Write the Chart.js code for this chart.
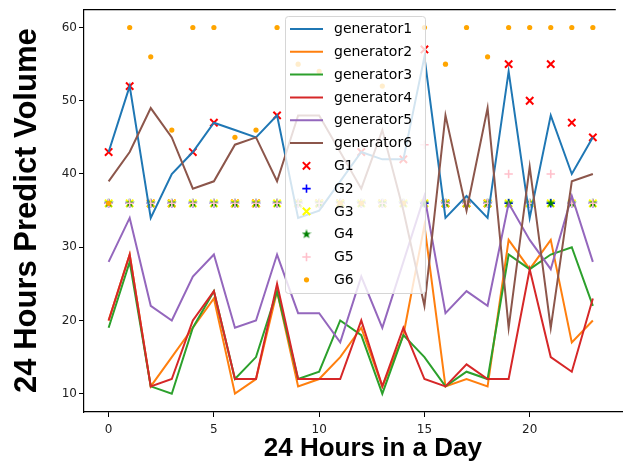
<!DOCTYPE html>
<html><head><meta charset="utf-8">
<script src="https://cdn.jsdelivr.net/npm/chart.js@4/dist/chart.umd.min.js"></script>
<style>html,body{margin:0;padding:0;background:#fff}#wrap{width:623px;height:461px;position:relative;overflow:hidden}</style>
</head><body><div id="wrap"><canvas id="c" width="623" height="461"></canvas></div>
<script>
// ---------- data ----------
const hours = [0,1,2,3,4,5,6,7,8,9,10,11,12,13,14,15,16,17,18,19,20,21,22,23];
const xTickValues = [0,5,10,15,20];
const yTickValues = [10,20,30,40,50,60];
const xTitle = '24 Hours in a Day';
const yTitle = '24 Hours Predict Volume';
const seriesNames = ['generator1','generator2','generator3','generator4','generator5','generator6'];
const generator1 = [43,52,34,40,43,47,46,45,48,34,35,39,43,42,42,56,34,37,34,54,34,48,40,45];
const generator2 = [20,29,11,15,19,23,10,12,24,11,12,15,19,11,18,33,11,12,11,31,27,31,17,20];
const generator3 = [19,28,11,10,19,24,12,15,24,12,13,20,18,10,18,15,11,13,12,29,27,29,30,22];
const generator4 = [20,29,11,12,20,24,12,12,25,12,12,12,20,11,19,12,11,14,12,12,27,15,13,23];
const generator5 = [28,34,22,20,26,29,19,20,29,21,21,17,26,19,28,37,21,24,22,36,31,27,37,28];
const generator6 = [39,43,49,45,38,39,44,45,39,48,48,43,38,46,35,22,48,35,49,19,41,19,39,40];
const markerNames = ['G1','G2','G3','G4','G5','G6'];
const G1 = [43,52,36,36,43,47,36,36,48,36,36,36,43,36,42,57,36,36,36,55,50,55,47,45];
const G2 = [36,36,36,36,36,36,36,36,36,36,36,36,36,36,36,36,36,36,36,36,36,36,36,36];
const G3 = [36,36,36,36,36,36,36,36,36,36,36,36,36,36,36,36,36,36,36,36,36,36,36,36];
const G4 = [36,36,36,36,36,36,36,36,36,36,36,36,36,36,36,36,36,36,36,36,36,36,36,36];
const G5 = [36,36,36,36,36,36,36,36,36,36,36,36,36,36,36,44,36,36,36,40,36,40,36,36];
const G6 = [36,60,56,46,60,60,45,46,60,55,54,36,36,52,36,60,55,60,56,60,60,60,60,60];

// ---------- styles ----------
const lineColors = ['#1f77b4','#ff7f0e','#2ca02c','#d62728','#9467bd','#8c564b'];
const markerColors = ['#ff0000','#0000ff','#ffff00','#008000','#ffc0cb','#ffa500'];

function starCanvas(color, size){
  const c = document.createElement('canvas');
  c.width = size; c.height = size;
  const g = c.getContext('2d');
  const cx = size/2, cy = size/2, R = size/2, r = R*0.4;
  g.beginPath();
  for (let k=0;k<10;k++){
    const a = -Math.PI/2 + k*Math.PI/5;
    const rr = k%2===0 ? R : r;
    const px = cx + rr*Math.cos(a), py = cy + rr*Math.sin(a);
    k===0 ? g.moveTo(px,py) : g.lineTo(px,py);
  }
  g.closePath(); g.fillStyle = color; g.fill();
  return c;
}
const star = starCanvas('#008000', 10);

const markerStyles = [
  {pointStyle:'crossRot', radius:5.2, borderWidth:2},
  {pointStyle:'cross', radius:4.2, borderWidth:1.6},
  {pointStyle:'crossRot', radius:5.2, borderWidth:2},
  {pointStyle:star, radius:5, borderWidth:0},
  {pointStyle:'cross', radius:4.2, borderWidth:1.6},
  {pointStyle:'circle', radius:2.6, borderWidth:0}
];

const toXY = arr => arr.map((v,i)=>({x:hours[i], y:v}));
const lineSeries = [generator1,generator2,generator3,generator4,generator5,generator6];
const markerSeries = [G1,G2,G3,G4,G5,G6];

const datasets = [];
lineSeries.forEach((arr,k)=>{
  datasets.push({
    label: seriesNames[k], data: toXY(arr), showLine:true,
    borderColor: lineColors[k], backgroundColor: lineColors[k],
    borderWidth: 2, pointRadius: 0, tension: 0, fill:false,
    order: 10 - k
  });
});
markerSeries.forEach((arr,k)=>{
  const st = markerStyles[k];
  datasets.push({
    label: markerNames[k], data: toXY(arr), showLine:false,
    pointStyle: st.pointStyle, pointRadius: st.radius, pointBorderWidth: st.borderWidth,
    borderColor: markerColors[k], backgroundColor: markerColors[k],
    pointBorderColor: markerColors[k], pointBackgroundColor: markerColors[k],
    order: 30 - k
  });
});

// ---------- plugins ----------
// the original axes continue past the right edge of the picture; widen the x scale box
// (after its pixel mapping is configured) so its centred title sits where it did.
const xBoxExtend = 46;
const extendX = {
  id:'extendX',
  afterLayout(chart){ const s = chart.scales.x; s.right = chart.chartArea.right + xBoxExtend; s.width = s.right - s.left; }
};

const frameTop = {
  id:'frameTop',
  beforeDatasetsDraw(chart){
    const {ctx, chartArea:a} = chart;
    ctx.save(); ctx.strokeStyle='#000'; ctx.lineWidth=1.2;
    ctx.beginPath(); ctx.moveTo(a.left, a.top+0.5); ctx.lineTo(a.right, a.top+0.5); ctx.stroke();
    ctx.restore();
  }
};

const legendLayout = {left:285, top:16, width:140, height:277, firstRow:13, rowStep:22.8, lineX0:290, lineX1:323, textX:334};
const boxLegend = {
  id:'boxLegend',
  afterDatasetsDraw(chart){
    const ctx = chart.ctx, L = legendLayout;
    ctx.save();
    ctx.beginPath();
    if (ctx.roundRect) ctx.roundRect(L.left+0.5, L.top+0.5, L.width, L.height, 3);
    else ctx.rect(L.left+0.5, L.top+0.5, L.width, L.height);
    ctx.fillStyle='rgba(255,255,255,0.8)'; ctx.fill();
    ctx.strokeStyle='#d6d6d6'; ctx.lineWidth=1; ctx.stroke();
    ctx.font = '14px "DejaVu Sans"'; ctx.textBaseline='middle'; ctx.textAlign='left';
    chart.data.datasets.forEach((ds,i)=>{
      const cy = L.top + L.firstRow + i*L.rowStep;
      if (ds.showLine) {
        ctx.strokeStyle = ds.borderColor; ctx.lineWidth = ds.borderWidth;
        ctx.beginPath(); ctx.moveTo(L.lineX0, cy); ctx.lineTo(L.lineX1, cy); ctx.stroke();
      } else {
        ctx.strokeStyle = ds.pointBorderColor; ctx.fillStyle = ds.pointBackgroundColor;
        ctx.lineWidth = ds.pointBorderWidth;
        Chart.helpers.drawPoint(ctx, {pointStyle: ds.pointStyle, radius: ds.pointRadius, rotation:0, borderWidth: ds.pointBorderWidth}, (L.lineX0+L.lineX1)/2, cy);
      }
      ctx.fillStyle = '#000';
      ctx.fillText(ds.label, L.textX, cy+0.5);
    });
    ctx.restore();
  }
};

const bg = {id:'bg', beforeDraw(chart){const c=chart.ctx; c.save(); c.fillStyle='#fff'; c.fillRect(0,0,chart.width,chart.height); c.restore();}};

new Chart(document.getElementById('c'), {
  type:'line',
  data:{datasets},
  options:{
    responsive:false, animation:false, devicePixelRatio:1,
    layout:{padding:{top:8,right:0,bottom:0,left:0}},
    plugins:{legend:{display:false}, tooltip:{enabled:false}},
    scales:{
      x:{
        type:'linear', min:-1.17, max:24.09,
        afterBuildTicks: s => { s.ticks = xTickValues.map(v=>({value:v})); },
        afterFit: s => { s.height = 49; },
        grid:{drawOnChartArea:false, drawTicks:true, tickLength:5, color:'#000', lineWidth:1},
        border:{display:true, color:'#000', width:1.2},
        ticks:{color:'#222', font:{family:'DejaVu Sans', size:12}, padding:6, maxRotation:0, autoSkip:false},
        title:{display:true, text:xTitle, color:'#000', font:{family:'Liberation Sans', size:26, weight:'bold', lineHeight:0.9}, padding:{top:0,bottom:0}}
      },
      y:{
        type:'linear', min:7.5, max:62.5,
        afterBuildTicks: s => { s.ticks = yTickValues.map(v=>({value:v})); },
        afterFit: s => { s.width = 84; },
        grid:{drawOnChartArea:false, drawTicks:true, tickLength:5, color:'#000', lineWidth:1},
        border:{display:true, color:'#000', width:1.2},
        ticks:{color:'#222', font:{family:'DejaVu Sans', size:12}, padding:2, autoSkip:false},
        title:{display:true, text:yTitle, color:'#000', font:{family:'Liberation Sans', size:31, weight:'bold', lineHeight:1}, padding:{top:12,bottom:0}}
      }
    }
  },
  plugins:[bg, extendX, frameTop, boxLegend]
});
</script></body></html>
